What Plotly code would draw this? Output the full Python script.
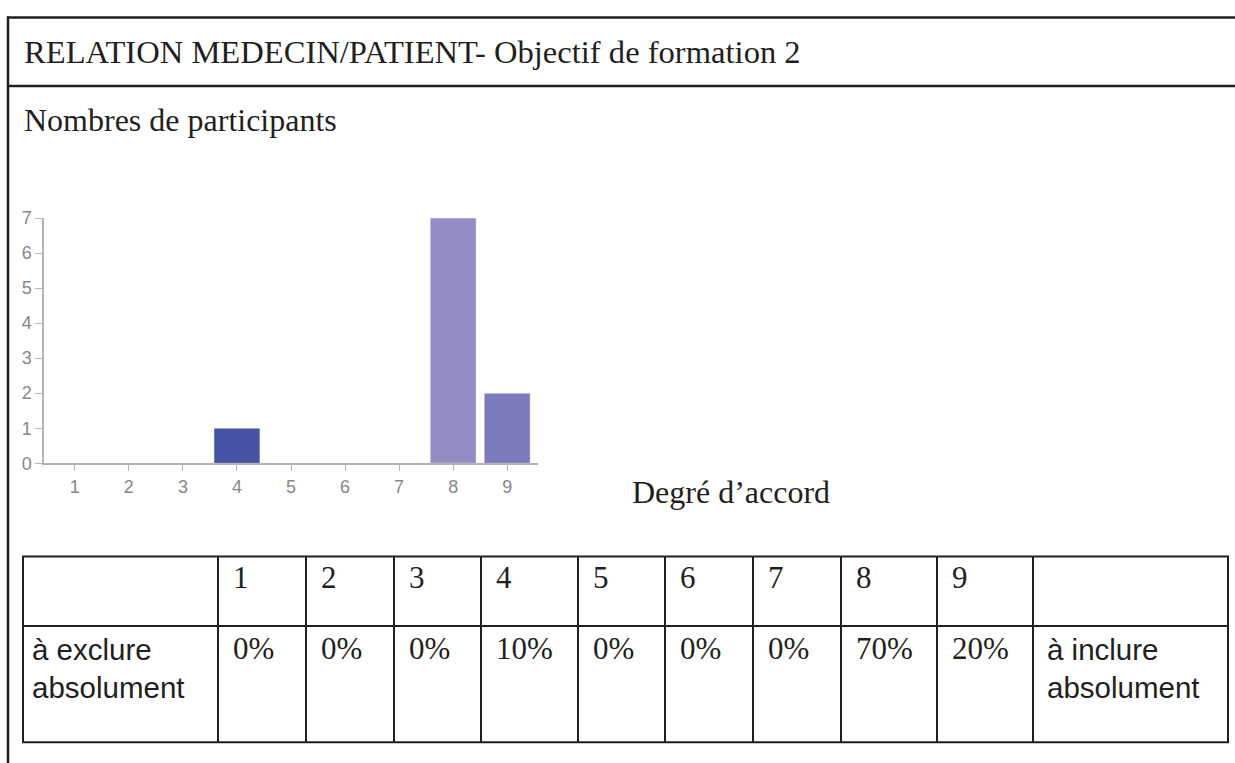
import plotly.graph_objects as go

# picture size 1235x763; the figure is drawn 773 px tall because the capture
# squeezes the page vertically
W, H_FIG = 1235, 773
Y_OFF, Y_SCALE = 4.5, 0.9811

# ---- data ----
degres = [1, 2, 3, 4, 5, 6, 7, 8, 9]
participants = [0, 0, 0, 1, 0, 0, 0, 7, 2]
pourcentages = ["0%", "0%", "0%", "10%", "0%", "0%", "0%", "70%", "20%"]
y_ticks = [0, 1, 2, 3, 4, 5, 6, 7]

titre = "RELATION MEDECIN/PATIENT- Objectif de formation 2"
sous_titre = "Nombres de participants"
axe_x_titre = "Degré d\u2019accord"
label_gauche = "à exclure<br>absolument"
label_droite = "à inclure<br>absolument"

# ---- style ----
bar_colors = ["#3a3f8f", "#3f4899", "#434ea0", "#4652a3", "#5560ab",
              "#6670b3", "#7378b8", "#918dc5", "#7b7bbb"]
INK = "#231f20"
SERIF = "Liberation Serif, Times New Roman, serif"
SANS = "Liberation Sans, Arial, sans-serif"
col_edges = [23, 218, 306, 394, 481, 578, 665, 753, 841, 937, 1033, 1228]
row_edges = [555, 625, 742]


def fx(x):
    return x / W


def fy(y):
    p = 1 - ((y - Y_OFF) / Y_SCALE) / H_FIG
    return min(1.0, max(0.0, p))


fig = go.Figure()
fig.add_trace(go.Bar(
    x=degres, y=participants, width=0.85,
    marker=dict(color=bar_colors, line=dict(color="rgba(255,255,255,0.45)", width=1)),
    showlegend=False, hoverinfo="x+y",
))

shapes = []


def hline(y, x0, x1, w=2):
    shapes.append(dict(type="line", xref="paper", yref="paper",
                       x0=fx(x0), x1=fx(x1), y0=fy(y), y1=fy(y),
                       line=dict(color=INK, width=w)))


def vline(x, y0, y1, w=2):
    shapes.append(dict(type="line", xref="paper", yref="paper",
                       x0=fx(x), x1=fx(x), y0=fy(y0), y1=fy(y1),
                       line=dict(color=INK, width=w)))


# outer frame
hline(12, 7, 1235, 2.5)
hline(81, 7, 1235, 2.5)
vline(8, 11, 800, 2.5)
# table
for r in row_edges:
    hline(r, col_edges[0] - 1, col_edges[-1] + 1)
for c in col_edges:
    vline(c, row_edges[0], row_edges[-1])

annotations = []


def text(x, y, t, size, family, yanchor="middle"):
    annotations.append(dict(xref="paper", yref="paper", x=fx(x), y=fy(y), text=t,
                            showarrow=False, xanchor="left", yanchor=yanchor,
                            align="left",
                            font=dict(size=size, family=family, color=INK)))


text(22, 47, titre, 32.6, SERIF)
text(22, 115, sous_titre, 32, SERIF)
text(630, 490, axe_x_titre, 32, SERIF)

for i, d in enumerate(degres):
    text(col_edges[i + 1] + 13, 576, str(d), 31, SERIF)
    text(col_edges[i + 1] + 13, 648, pourcentages[i], 31, SERIF)

text(col_edges[0] + 7, 630, label_gauche, 29.5, SANS, yanchor="top")
text(col_edges[-2] + 12, 630, label_droite, 29.5, SANS, yanchor="top")

axis_col = "#b4b4b4"
tick_font = dict(size=18, family=SANS, color="#888888")

fig.update_layout(
    width=W, height=H_FIG, autosize=False,
    margin=dict(l=0, r=0, t=0, b=0),
    paper_bgcolor="white", plot_bgcolor="white",
    shapes=shapes, annotations=annotations,
    xaxis=dict(domain=[fx(44), fx(538)], range=[0.43, 9.57],
               tickmode="array", tickvals=degres, ticktext=[str(d) for d in degres],
               showline=True, linecolor=axis_col, linewidth=1.5,
               ticks="outside", ticklen=6, tickcolor=axis_col, tickwidth=1,
               tickfont=tick_font, showgrid=False, zeroline=False, fixedrange=True),
    yaxis=dict(domain=[fy(461), fy(214)], range=[0, 7],
               tickmode="array", tickvals=y_ticks,
               showline=True, linecolor=axis_col, linewidth=1.5,
               ticks="outside", ticklen=7, tickcolor=axis_col, tickwidth=1,
               tickfont=tick_font, showgrid=False, zeroline=False, fixedrange=True),
)

fig.write_html(
    "out.html",
    config={"displayModeBar": False},
    post_script="document.body.style.margin='0';document.body.style.overflow='hidden';",
)
